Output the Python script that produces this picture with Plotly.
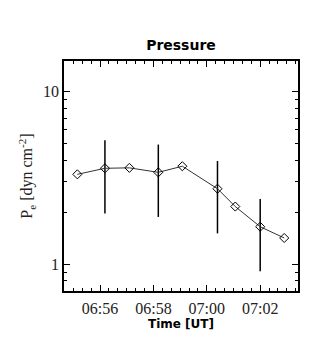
import plotly.graph_objects as go

# Electron pressure time series with 1-sigma uncertainties
times = ["2000-01-01 06:55:09", "2000-01-01 06:56:11", "2000-01-01 06:57:06",
         "2000-01-01 06:58:11", "2000-01-01 06:59:05", "2000-01-01 07:00:24",
         "2000-01-01 07:01:04", "2000-01-01 07:02:00", "2000-01-01 07:02:54"]
pressure = [3.32, 3.60, 3.62, 3.41, 3.70, 2.74, 2.16, 1.65, 1.42]
pressure_err = [0, 1.63, 0, 1.53, 0, 1.23, 0, 0.74, 0]

x_tick_vals = ["2000-01-01 06:56", "2000-01-01 06:58", "2000-01-01 07:00", "2000-01-01 07:02"]
x_tick_text = ["06:56", "06:58", "07:00", "07:02"]
y_tick_vals = [1, 10]
y_tick_text = ["1", "10"]

serif = "Liberation Serif, DejaVu Serif, serif"
sans = "DejaVu Sans, Verdana, sans-serif"

fig = go.Figure()
fig.add_trace(go.Scatter(
    x=times, y=pressure,
    mode="lines+markers",
    line=dict(color="#333333", width=1),
    marker=dict(symbol="diamond-open", size=7, color="black", line=dict(width=1)),
    error_y=dict(type="data", array=pressure_err, visible=True,
                 color="black", thickness=1.5, width=0),
    showlegend=False,
))

fig.update_layout(
    width=333, height=358,
    margin=dict(l=64, r=35, t=61, b=67),
    paper_bgcolor="white", plot_bgcolor="white",
    title=dict(text="<b>Pressure</b>", x=0.5435, xanchor="center",
               y=1 - 45 / 358, yanchor="middle",
               font=dict(family=sans, size=14, color="black")),
)

fig.update_xaxes(
    type="date",
    range=["2000-01-01 06:54:39", "2000-01-01 07:03:25"],
    tickvals=x_tick_vals, ticktext=x_tick_text,
    ticks="inside", ticklen=6, tickwidth=1, tickcolor="black",
    minor=dict(ticks="inside", ticklen=3, tickwidth=1, tickcolor="black", dtick=20000),
    showline=True, linecolor="black", linewidth=1.5, mirror="allticks",
    showgrid=False, zeroline=False,
    ticklabelstandoff=2,
    tickfont=dict(family=serif, size=16, color="#222222"),
    title=dict(text="<b>Time [UT]</b>", standoff=0,
               font=dict(family=sans, size=12, color="black")),
)

fig.update_yaxes(
    type="log",
    range=[-0.155, 1.178],
    tickvals=y_tick_vals, ticktext=y_tick_text,
    ticks="inside", ticklen=6, tickwidth=1, tickcolor="black",
    minor=dict(ticks="inside", ticklen=3, tickwidth=1, tickcolor="black", dtick="D1"),
    showline=True, linecolor="black", linewidth=1.5, mirror="allticks",
    showgrid=False, zeroline=False,
    tickfont=dict(family=serif, size=16, color="#222222"),
    title=dict(text="P<sub>e</sub> [dyn cm<sup>-2</sup>]", standoff=6,
               font=dict(family=serif, size=16, color="#222222")),
)

fig.write_html("out.html")
